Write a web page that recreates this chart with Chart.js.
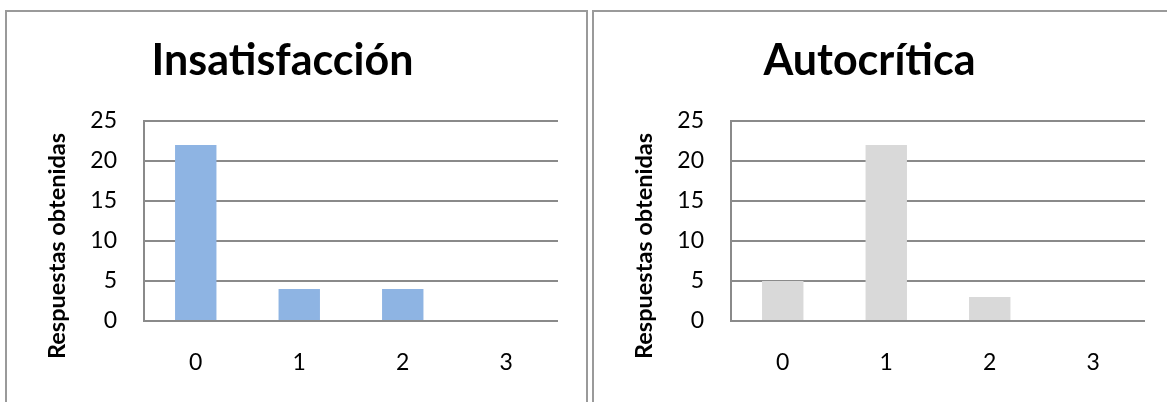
<!DOCTYPE html>
<html>
<head>
<meta charset="utf-8">
<script src="https://cdn.jsdelivr.net/npm/chart.js@4.4.1/dist/chart.umd.min.js"></script>
<style>
  body { margin: 0; background: #fff; overflow: hidden; }
  .panel { position: absolute; top: 10px; width: 579px; height: 400px; border: 2px solid #9a9a9a; background: #fff; }
  .panel canvas { position: absolute; left: 0; top: 0; }
</style>
</head>
<body>
<div class="panel" style="left:5px"><canvas id="insat" width="579" height="390"></canvas></div>
<div class="panel" style="left:592px"><canvas id="autoc" width="579" height="390"></canvas></div>
<script>
// data
var categories = ['0', '1', '2', '3'];
var insatisfaccion = [22, 4, 4, 0];
var autocritica = [5, 22, 3, 0];
var yTitle = 'Respuestas obtenidas';

// rotated y title, placed like the Excel one (not centred on the plot)
var yTitlePlugin = {
    id: 'yTitle',
    afterDraw: function (chart, args, opts) {
        var ctx = chart.ctx;
        ctx.save();
        ctx.translate(opts.x, opts.y);
        ctx.rotate(-Math.PI / 2);
        ctx.font = 'bold 23.5px Lato';
        ctx.fillStyle = '#000';
        ctx.textAlign = 'center';
        ctx.textBaseline = 'middle';
        ctx.fillText(opts.text, 0, 0);
        ctx.restore();
    }
};

function makeChart(id, title, values, color) {
    return new Chart(document.getElementById(id), {
        type: 'bar',
        data: {
            labels: categories,
            datasets: [{
                data: values,
                backgroundColor: color,
                borderWidth: 0,
                categoryPercentage: 1,
                barPercentage: 0.4
            }]
        },
        plugins: [yTitlePlugin],
        options: {
            responsive: false,
            animation: false,
            layout: { padding: { left: 0, right: 28, top: 0, bottom: 0 } },
            plugins: {
                legend: { display: false },
                tooltip: { enabled: false },
                title: {
                    display: true,
                    text: title,
                    color: '#000',
                    font: { family: 'Lato', size: 43, weight: 'bold', lineHeight: 1 },
                    padding: { top: 28, bottom: 38 }
                },
                yTitle: { text: yTitle, x: 50, y: 234 }
            },
            scales: {
                x: {
                    grid: { display: false, drawTicks: false },
                    border: { display: false },
                    ticks: { color: '#000', font: { family: 'Lato', size: 23 }, padding: 28 },
                    afterFit: function (s) { s.height = 81; }
                },
                y: {
                    min: 0,
                    max: 25,
                    ticks: { stepSize: 5, color: '#000', font: { family: 'Lato', size: 23 }, padding: 27 },
                    grid: { color: '#8a8a8a', lineWidth: 2, drawTicks: false },
                    border: { display: true, color: '#8a8a8a', width: 2 },
                    afterFit: function (s) { s.width = 137; }
                }
            }
        }
    });
}

makeChart('insat', 'Insatisfacción', insatisfaccion, '#8eb4e3');
makeChart('autoc', 'Autocrítica', autocritica, '#d9d9d9');
</script>
</body>
</html>
